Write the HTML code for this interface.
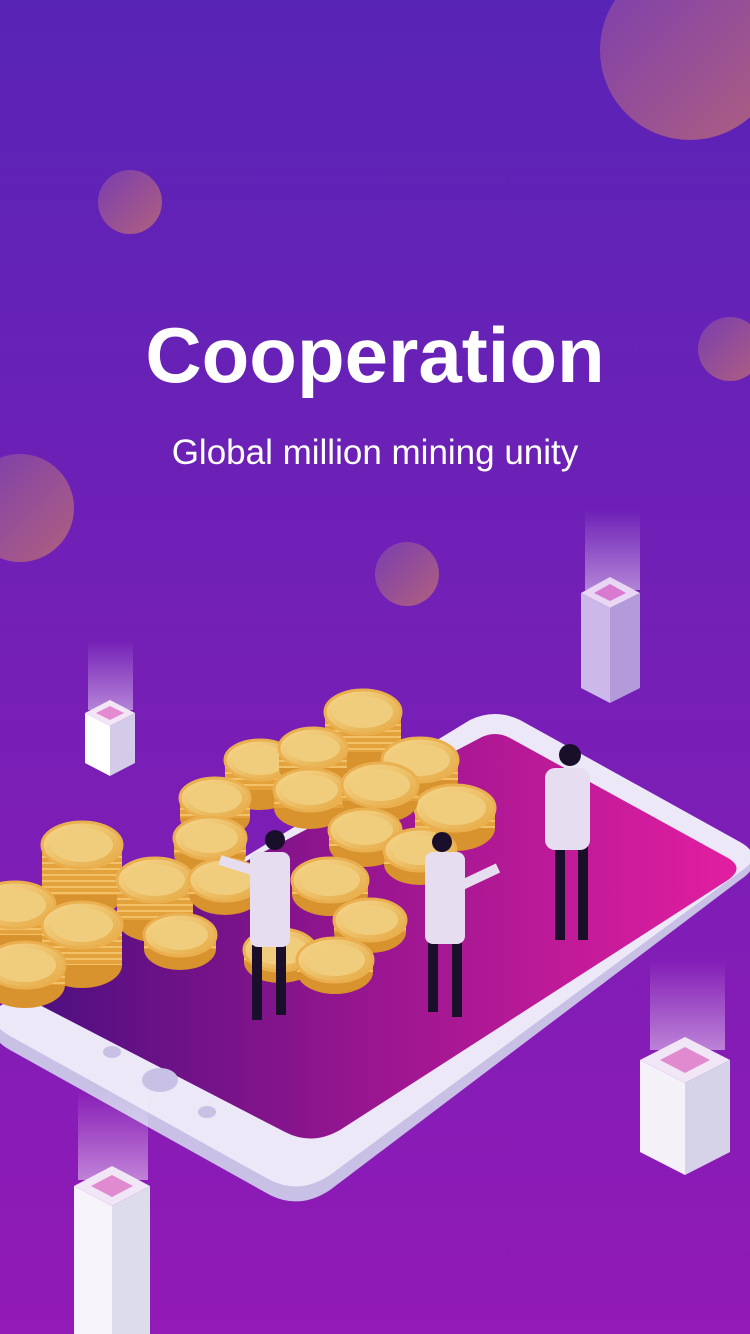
<!DOCTYPE html>
<html><head><meta charset="utf-8"><style>
html,body{margin:0;padding:0;width:750px;height:1334px;overflow:hidden}
svg{display:block}
.cb{fill:#d8922e}
.cs{fill:url(#rim)}
.ct{fill:url(#coin);stroke:#eab050;stroke-width:3}
.ci{fill:#f0cd7c}
</style></head><body>
<svg width="750" height="1334" viewBox="0 0 750 1334" xmlns="http://www.w3.org/2000/svg">
<defs>
<linearGradient id="bg" x1="0" y1="0" x2="0" y2="1"><stop offset="0" stop-color="#5824b6"/><stop offset="1" stop-color="#921ab6"/></linearGradient>
<linearGradient id="orb" x1="0" y1="0" x2="1" y2="1"><stop offset="0" stop-color="#7a3db0"/><stop offset="1" stop-color="#b0607e"/></linearGradient>
<linearGradient id="scr" x1="0" y1="0" x2="1" y2="0"><stop offset="0" stop-color="#4a0f80"/><stop offset="0.5" stop-color="#9a1690"/><stop offset="1" stop-color="#e21ea0"/></linearGradient>
<linearGradient id="coin" x1="0" y1="0" x2="1" y2="1"><stop offset="0" stop-color="#f5d890"/><stop offset="1" stop-color="#e6aa44"/></linearGradient>
<linearGradient id="beam" x1="0" y1="0" x2="0" y2="1"><stop offset="0" stop-color="#fff" stop-opacity="0"/><stop offset="1" stop-color="#fff" stop-opacity="0.45"/></linearGradient>
<pattern id="rim" width="10" height="6" patternUnits="userSpaceOnUse"><rect width="10" height="6" fill="#e3a23c"/><rect y="4" width="10" height="2" fill="#f3c268"/></pattern>
</defs>
<rect width="750" height="1334" fill="url(#bg)"/>
<g>
<circle cx="690" cy="50" r="90" fill="url(#orb)"/>
<circle cx="130" cy="202" r="32" fill="url(#orb)"/>
<circle cx="730" cy="349" r="32" fill="url(#orb)"/>
<circle cx="20" cy="508" r="54" fill="url(#orb)"/>
<circle cx="407" cy="574" r="32" fill="url(#orb)"/>
</g>
<text x="375" y="382" text-anchor="middle" font-family="Liberation Sans, sans-serif" font-weight="bold" font-size="78" fill="#fff">Cooperation</text>
<text x="375" y="464" text-anchor="middle" font-family="Liberation Sans, sans-serif" font-size="35" fill="#fff">Global million mining unity</text>

<g>
<path d="M470 728 Q495 716 520 728 L740 850 Q765 864 740 880 L330 1190 Q300 1210 270 1195 L10 1050 Q-15 1036 0 1020 Z" fill="#c9c0e6"/>
<path d="M470 720 Q495 708 520 720 L740 842 Q765 856 740 872 L330 1175 Q300 1195 270 1180 L10 1036 Q-15 1022 0 1006 Z" fill="#ece8f7"/>
<path d="M480 738 Q495 730 510 738 L728 858 Q745 868 728 880 L340 1130 Q312 1146 285 1132 L30 1000 Q10 988 30 975 Z" fill="url(#scr)"/>
<ellipse cx="160" cy="1080" rx="18" ry="12" fill="#c9c0e6"/>
<ellipse cx="112" cy="1052" rx="9" ry="6" fill="#c9c0e6"/>
<ellipse cx="207" cy="1112" rx="9" ry="6" fill="#c9c0e6"/>
</g>

<g>
<g><ellipse class="cb" cx="363" cy="752" rx="38" ry="22"/><rect class="cs" x="325" y="712" width="76" height="40"/><ellipse class="ct" cx="363" cy="712" rx="38" ry="22"/><ellipse class="ci" cx="363" cy="712" rx="30" ry="16"/></g>
<g><ellipse class="cb" cx="260" cy="790" rx="35" ry="20"/><rect class="cs" x="225" y="760" width="70" height="30"/><ellipse class="ct" cx="260" cy="760" rx="35" ry="20"/><ellipse class="ci" cx="260" cy="760" rx="27" ry="15"/></g>
<g><ellipse class="cb" cx="313" cy="768" rx="34" ry="20"/><rect class="cs" x="279" y="748" width="68" height="20"/><ellipse class="ct" cx="313" cy="748" rx="34" ry="20"/><ellipse class="ci" cx="313" cy="748" rx="27" ry="14"/></g>
<g><ellipse class="cb" cx="420" cy="780" rx="38" ry="22"/><rect class="cs" x="382" y="760" width="76" height="20"/><ellipse class="ct" cx="420" cy="760" rx="38" ry="22"/><ellipse class="ci" cx="420" cy="760" rx="30" ry="16"/></g>
<g><ellipse class="cb" cx="455" cy="828" rx="40" ry="23"/><rect class="cs" x="415" y="808" width="80" height="20"/><ellipse class="ct" cx="455" cy="808" rx="40" ry="23"/><ellipse class="ci" cx="455" cy="808" rx="31" ry="17"/></g>
<g><ellipse class="cb" cx="215" cy="818" rx="35" ry="20"/><rect class="cs" x="180" y="798" width="70" height="20"/><ellipse class="ct" cx="215" cy="798" rx="35" ry="20"/><ellipse class="ci" cx="215" cy="798" rx="27" ry="15"/></g>
<g><ellipse class="cb" cx="310" cy="808" rx="36" ry="21"/><rect class="cs" x="274" y="790" width="72" height="18"/><ellipse class="ct" cx="310" cy="790" rx="36" ry="21"/><ellipse class="ci" cx="310" cy="790" rx="28" ry="15"/></g>
<g><ellipse class="cb" cx="380" cy="801" rx="38" ry="22"/><rect class="cs" x="342" y="785" width="76" height="16"/><ellipse class="ct" cx="380" cy="785" rx="38" ry="22"/><ellipse class="ci" cx="380" cy="785" rx="30" ry="16"/></g>
<g><ellipse class="cb" cx="210" cy="854" rx="36" ry="21"/><rect class="cs" x="174" y="838" width="72" height="16"/><ellipse class="ct" cx="210" cy="838" rx="36" ry="21"/><ellipse class="ci" cx="210" cy="838" rx="28" ry="15"/></g>
<g><ellipse class="cb" cx="365" cy="846" rx="36" ry="21"/><rect class="cs" x="329" y="830" width="72" height="16"/><ellipse class="ct" cx="365" cy="830" rx="36" ry="21"/><ellipse class="ci" cx="365" cy="830" rx="28" ry="15"/></g>
<g><ellipse class="cb" cx="420" cy="864" rx="36" ry="21"/><rect class="cs" x="384" y="850" width="72" height="14"/><ellipse class="ct" cx="420" cy="850" rx="36" ry="21"/><ellipse class="ci" cx="420" cy="850" rx="28" ry="15"/></g>
<g><ellipse class="cb" cx="82" cy="895" rx="40" ry="23"/><rect class="cs" x="42" y="845" width="80" height="50"/><ellipse class="ct" cx="82" cy="845" rx="40" ry="23"/><ellipse class="ci" cx="82" cy="845" rx="31" ry="17"/></g>
<g><ellipse class="cb" cx="155" cy="920" rx="38" ry="22"/><rect class="cs" x="117" y="880" width="76" height="40"/><ellipse class="ct" cx="155" cy="880" rx="38" ry="22"/><ellipse class="ci" cx="155" cy="880" rx="30" ry="16"/></g>
<g><ellipse class="cb" cx="225" cy="894" rx="36" ry="21"/><rect class="cs" x="189" y="880" width="72" height="14"/><ellipse class="ct" cx="225" cy="880" rx="36" ry="21"/><ellipse class="ci" cx="225" cy="880" rx="28" ry="15"/></g>
<g><ellipse class="cb" cx="330" cy="894" rx="38" ry="22"/><rect class="cs" x="292" y="880" width="76" height="14"/><ellipse class="ct" cx="330" cy="880" rx="38" ry="22"/><ellipse class="ci" cx="330" cy="880" rx="30" ry="16"/></g>
<g><ellipse class="cb" cx="370" cy="932" rx="36" ry="21"/><rect class="cs" x="334" y="920" width="72" height="12"/><ellipse class="ct" cx="370" cy="920" rx="36" ry="21"/><ellipse class="ci" cx="370" cy="920" rx="28" ry="15"/></g>
<g><ellipse class="cb" cx="15" cy="935" rx="40" ry="23"/><rect class="cs" x="-25" y="905" width="80" height="30"/><ellipse class="ct" cx="15" cy="905" rx="40" ry="23"/><ellipse class="ci" cx="15" cy="905" rx="31" ry="17"/></g>
<g><ellipse class="cb" cx="82" cy="965" rx="40" ry="23"/><rect class="cs" x="42" y="925" width="80" height="40"/><ellipse class="ct" cx="82" cy="925" rx="40" ry="23"/><ellipse class="ci" cx="82" cy="925" rx="31" ry="17"/></g>
<g><ellipse class="cb" cx="180" cy="949" rx="36" ry="21"/><rect class="cs" x="144" y="935" width="72" height="14"/><ellipse class="ct" cx="180" cy="935" rx="36" ry="21"/><ellipse class="ci" cx="180" cy="935" rx="28" ry="15"/></g>
<g><ellipse class="cb" cx="25" cy="985" rx="40" ry="23"/><rect class="cs" x="-15" y="965" width="80" height="20"/><ellipse class="ct" cx="25" cy="965" rx="40" ry="23"/><ellipse class="ci" cx="25" cy="965" rx="31" ry="17"/></g>
<g><ellipse class="cb" cx="280" cy="962" rx="36" ry="21"/><rect class="cs" x="244" y="950" width="72" height="12"/><ellipse class="ct" cx="280" cy="950" rx="36" ry="21"/><ellipse class="ci" cx="280" cy="950" rx="28" ry="15"/></g>
<g><ellipse class="cb" cx="335" cy="972" rx="38" ry="22"/><rect class="cs" x="297" y="960" width="76" height="12"/><ellipse class="ct" cx="335" cy="960" rx="38" ry="22"/><ellipse class="ci" cx="335" cy="960" rx="30" ry="16"/></g>
</g>

<g>
<g><rect x="252" y="945" width="10" height="75" fill="#1a0f2a"/><rect x="276" y="945" width="10" height="70" fill="#1a0f2a"/><rect x="250" y="852" width="40" height="95" rx="8" fill="#e6def0"/><path d="M252 870 L220 860" stroke="#e6def0" stroke-width="10"/><circle cx="275" cy="840" r="10" fill="#1a0f2a"/></g>
<g><rect x="428" y="942" width="10" height="70" fill="#1a0f2a"/><rect x="452" y="942" width="10" height="75" fill="#1a0f2a"/><rect x="425" y="852" width="40" height="92" rx="8" fill="#e6def0"/><path d="M462 885 L498 868" stroke="#e6def0" stroke-width="10"/><circle cx="442" cy="842" r="10" fill="#1a0f2a"/></g>
<g><rect x="555" y="845" width="10" height="95" fill="#1a0f2a"/><rect x="578" y="845" width="10" height="95" fill="#1a0f2a"/><rect x="545" y="768" width="45" height="82" rx="10" fill="#e6def0"/><circle cx="570" cy="755" r="11" fill="#1a0f2a"/></g>
</g>

<g>
<g><rect x="88" y="640" width="45" height="70" fill="url(#beam)"/><polygon points="110,700 135,713 110,726 85,713" fill="#f2e6f6"/><polygon points="85,713 110,726 110,776 85,763" fill="#fff"/><polygon points="110,726 135,713 135,763 110,776" fill="#d4cbe8"/><polygon points="110,706 124,713 110,720 96,713" fill="#e48ad0"/></g>
<g><rect x="585" y="510" width="55" height="80" fill="url(#beam)"/><polygon points="610,577 640,593 610,608 581,593" fill="#e8d6f4"/><polygon points="581,593 610,608 610,703 581,688" fill="#cdb8ea"/><polygon points="610,608 640,593 640,688 610,703" fill="#b39ad8"/><polygon points="610,584 626,593 610,601 594,593" fill="#d97ad0"/></g>
<g><rect x="650" y="960" width="75" height="90" fill="url(#beam)"/><polygon points="685,1037 730,1060 685,1083 640,1060" fill="#f0e6f6"/><polygon points="640,1060 685,1083 685,1175 640,1152" fill="#f4f2f8"/><polygon points="685,1083 730,1060 730,1152 685,1175" fill="#d6d2e8"/><polygon points="685,1047 710,1060 685,1073 660,1060" fill="#e08ad0"/></g>
<g><rect x="78" y="1090" width="70" height="90" fill="url(#beam)"/><polygon points="112,1166 150,1186 112,1206 74,1186" fill="#f0e6f6"/><polygon points="74,1186 112,1206 112,1334 74,1334" fill="#f6f4fa"/><polygon points="112,1206 150,1186 150,1334 112,1334" fill="#dcdcea"/><polygon points="112,1175 133,1186 112,1197 91,1186" fill="#e08ad0"/></g>
</g>
</svg>
</body></html>
